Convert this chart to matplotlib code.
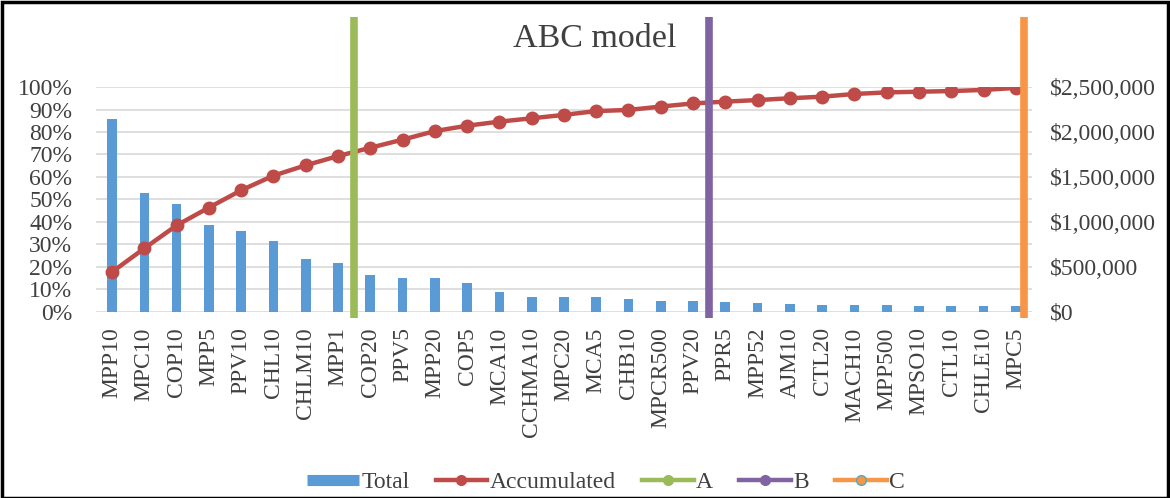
import matplotlib
matplotlib.use("Agg")
import matplotlib.pyplot as plt
from matplotlib.lines import Line2D
from matplotlib.patches import Rectangle
from matplotlib.ticker import FuncFormatter, MultipleLocator
import numpy as np

# data
products = ["MPP10", "MPC10", "COP10", "MPP5", "PPV10", "CHL10", "CHLM10", "MPP1",
            "COP20", "PPV5", "MPP20", "COP5", "MCA10", "CCHMA10", "MPC20", "MCA5",
            "CHB10", "MPCR500", "PPV20", "PPR5", "MPP52", "AJM10", "CTL20", "MACH10",
            "MPP500", "MPSO10", "CTL10", "CHLE10", "MPC5"]
total = [2150000, 1320000, 1200000, 963000, 903000, 785000, 585000, 540000,
         410000, 380000, 380000, 320000, 220000, 170000, 170000, 170000,
         140000, 125000, 125000, 110000, 97000, 89000, 75000, 75000,
         78000, 62000, 62000, 62000, 62000]
accumulated = [0.178, 0.283, 0.385, 0.464, 0.541, 0.606, 0.652, 0.693,
               0.730, 0.766, 0.804, 0.828, 0.846, 0.861, 0.876, 0.893,
               0.898, 0.913, 0.927, 0.935, 0.942, 0.950, 0.957, 0.969,
               0.976, 0.979, 0.982, 0.987, 0.996]
cut_labels = ["A", "B", "C"]
cut_pos = [7.5, 18.5, 28.25]
cut_colors = ["#9BBB59", "#8064A2", "#F79646"]

plt.rcParams['font.family'] = ['Liberation Serif', 'DejaVu Serif']
txt = "#404040"
fs = 17

fig = plt.figure(figsize=(11.7, 4.98), dpi=100)
ax = fig.add_axes([0.082, 0.3735, 0.8, 0.4518])
ax2 = ax.twinx()

x = np.arange(len(products))
ax.bar(x, total, width=0.3, color="#5B9BD5", zorder=2)
ax.set_ylim(0, 2500000)
ax.set_xlim(-0.5, len(products) - 0.5)
ax.yaxis.set_major_locator(MultipleLocator(500000))
ax.yaxis.set_minor_locator(MultipleLocator(250000))
ax.grid(axis="y", which="both", color="#D9D9D9", lw=1.2, zorder=0)
ax.yaxis.set_major_formatter(FuncFormatter(lambda v, p: "${:,.0f}".format(v)))
ax.yaxis.tick_right()
ax.tick_params(axis="y", which="both", length=0, pad=13, labelsize=fs, labelcolor=txt)
ax.set_xticks(x)
ax.set_xticklabels(products, rotation=90, fontsize=fs, color=txt)
ax.tick_params(axis="x", length=0, pad=11)

ax2.plot(x, accumulated, color="#BE4B48", lw=3.2, marker="o", ms=9, zorder=5)
for pos, col in zip(cut_pos, cut_colors):
    ax2.plot([pos, pos], [-0.025, 1.31], color=col, lw=5.5, clip_on=False,
             solid_capstyle="butt", zorder=6)
ax2.set_ylim(0, 1)
ax2.yaxis.set_major_locator(MultipleLocator(0.1))
ax2.yaxis.set_major_formatter(FuncFormatter(lambda v, p: "{:.0f}%".format(v * 100)))
ax2.yaxis.tick_left()
ax2.tick_params(axis="y", length=0, pad=17, labelsize=fs, labelcolor=txt)

for a in (ax, ax2):
    for s in a.spines.values():
        s.set_visible(False)

fig.text(0.508, 0.923, "ABC model", ha="center", va="center", fontsize=24.5, color=txt)

handles = [Line2D([], [], color="#5B9BD5", lw=8, solid_capstyle="butt"),
           Line2D([], [], color="#BE4B48", lw=3.2, marker="o", ms=7)]
for col in cut_colors[:2]:
    handles.append(Line2D([], [], color=col, lw=3.2, marker="o", ms=7))
handles.append(Line2D([], [], color=cut_colors[2], lw=3.2, marker="o", ms=7,
                      markerfacecolor=cut_colors[2], markeredgecolor="#4BACC6"))
fig.legend(handles, ["Total", "Accumulated"] + cut_labels, loc="center",
           bbox_to_anchor=(0.518, 0.032), ncol=5, frameon=False, fontsize=fs,
           handlelength=2.2, handletextpad=0.1, columnspacing=1.1,
           labelcolor=txt)

fig.patches.append(Rectangle((0.002, 0.0), 0.996, 0.996, transform=fig.transFigure,
                             fill=False, edgecolor="black", lw=2.5))

fig.savefig("out.png", dpi=100)
